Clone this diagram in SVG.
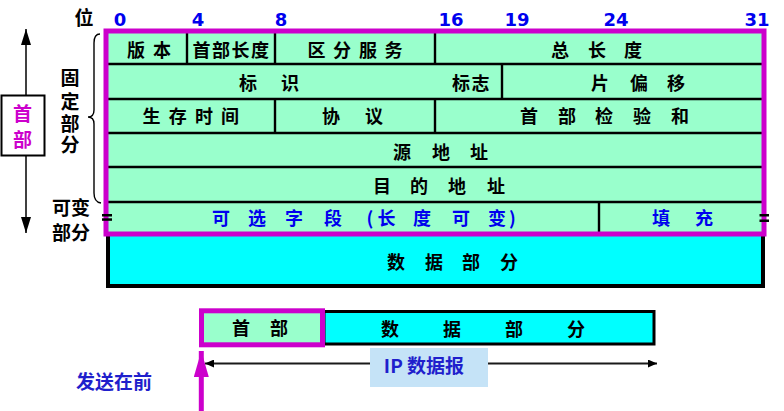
<svg xmlns="http://www.w3.org/2000/svg" width="784" height="411" viewBox="0 0 784 411">
<style>
.cjk{font-family:"Noto Sans CJK SC","Noto Sans",sans-serif;font-weight:bold;text-anchor:middle}
.t{font-size:18px;fill:#000}
.b{font-size:18px;fill:#0000EE}
.num{font-family:"DejaVu Sans",sans-serif;font-weight:bold;font-size:18px;fill:#0000EE;text-anchor:middle}
.side{font-size:19px;fill:#000}
.ln{stroke:#000;stroke-width:2.4}
.mag{fill:none;stroke:#CC00CC;stroke-width:5}
</style>
<defs>
<marker id="ahb" markerUnits="userSpaceOnUse" markerWidth="16" markerHeight="10" viewBox="0 0 16 10" refX="16" refY="5" orient="auto">
<path d="M0,0 L16,5 L0,10 Z" fill="#000"/>
</marker>
<marker id="ahs" markerUnits="userSpaceOnUse" markerWidth="9" markerHeight="8" viewBox="0 0 9 8" refX="9" refY="4" orient="auto">
<path d="M0,0 L9,4 L0,8 Z" fill="#000"/>
</marker>
<marker id="ahm" markerUnits="userSpaceOnUse" markerWidth="26" markerHeight="15" viewBox="0 0 26 15" refX="26" refY="7.5" orient="auto">
<path d="M0,0 L26,7.5 L0,15 Z" fill="#CC00CC"/>
</marker>
</defs>
<rect width="784" height="411" fill="#fff"/>

<g id="bit-scale">
<text class="cjk side" x="84" y="24.5">位</text>
<text class="num" x="120" y="26">0</text>
<text class="num" x="198" y="26">4</text>
<text class="num" x="281" y="26">8</text>
<text class="num" x="451" y="26">16</text>
<text class="num" x="517" y="26">19</text>
<text class="num" x="616" y="26">24</text>
<text class="num" x="757" y="26">31</text>
</g>

<g id="data-part">
<rect x="108" y="234" width="655" height="52" fill="#00FFFF" stroke="#000" stroke-width="4"/>
<text class="cjk t" x="396 415 434 452.5 471 490 509" y="269">数 据 部 分</text>
</g>

<g id="header-table">
<rect x="107" y="32" width="656" height="201" fill="#99FFCC"/>
<line class="ln" x1="108" y1="64" x2="762" y2="64"/>
<line class="ln" x1="108" y1="99" x2="762" y2="99"/>
<line class="ln" x1="108" y1="133" x2="762" y2="133"/>
<line class="ln" x1="108" y1="167" x2="762" y2="167"/>
<line class="ln" x1="108" y1="202" x2="762" y2="202"/>
<line class="ln" x1="187" y1="32" x2="187" y2="64"/>
<line class="ln" x1="275" y1="32" x2="275" y2="64"/>
<line class="ln" x1="435" y1="32" x2="435" y2="64"/>
<line class="ln" x1="502" y1="64" x2="502" y2="99"/>
<line class="ln" x1="275" y1="99" x2="275" y2="133"/>
<line class="ln" x1="435" y1="99" x2="435" y2="133"/>
<line class="ln" x1="599" y1="202" x2="599" y2="233"/>
<text class="cjk t" x="136 149 162" y="57">版 本</text>
<text class="cjk t" x="201.5 221 240.5 260" y="57">首部长度</text>
<text class="cjk t" x="316.5 329 342 355 368 381 393.5" y="57">区 分 服 务</text>
<text class="cjk t" x="560 578.5 597 615 633" y="57">总 长 度</text>
<text class="cjk t" x="248 269 290" y="90">标 识</text>
<text class="cjk t" x="461 480.5" y="90">标志</text>
<text class="cjk t" x="600 619.5 639 657.5 676" y="90">片 偏 移</text>
<text class="cjk t" x="151.5 164.5 177.7 191 204 217 230" y="123">生 存 时 间</text>
<text class="cjk t" x="331 352.5 374" y="123">协 议</text>
<text class="cjk t" x="529 548 567 585.5 604 623 642 661 680" y="123">首 部 检 验 和</text>
<text class="cjk t" x="402 421.5 441 460 479" y="158.5">源 地 址</text>
<text class="cjk t" x="382 400.5 419 438 457 476.5 496" y="192.5">目 的 地 址</text>
<text class="cjk b" x="221 239 257 275.5 294 313.5 333 351 370 386.5 404 422 441.5 461 479 497 512.5" y="225">可 选 字 段 (长 度 可 变)</text>
<text class="cjk b" x="661 682.5 704" y="225">填 充</text>
<rect class="mag" x="106" y="31" width="658" height="203"/>
<rect x="102" y="214" width="10" height="2.5" fill="#000"/>
<rect x="102" y="218.3" width="10" height="2.5" fill="#000"/>
<rect x="759.5" y="214" width="9.5" height="2.5" fill="#000"/>
<rect x="759.5" y="219.5" width="9.5" height="2.5" fill="#000"/>
</g>

<g id="side-labels">
<path d="M100,34 Q94,34 94,43 L94,110 Q94,117 88,117 Q94,117 94,124 L94,193 Q94,202 101,203" fill="none" stroke="#000" stroke-width="1.4"/>
<text class="cjk side" x="70 70 70 70" y="85 108.5 130.5 151.5">固定部分</text>
<text class="cjk side" x="71" y="215">可变</text>
<text class="cjk side" x="71" y="239.5">部分</text>
</g>

<g id="header-box">
<rect x="1.5" y="95.5" width="43" height="60" fill="#fff" stroke="#000" stroke-width="2"/>
<text class="cjk side" x="22.5 22.5" y="120.5 147" fill="#CC00CC" style="fill:#CC00CC">首部</text>
</g>

<g id="datagram">
<rect x="324" y="311.5" width="330" height="32.5" fill="#00FFFF" stroke="#000" stroke-width="3"/>
<text class="cjk t" x="390 421 452 483 514 545 576" y="335.5">数 据 部 分</text>
<rect x="201.5" y="310.8" width="121" height="34" fill="#99FFCC" stroke="#CC00CC" stroke-width="5"/>
<text class="cjk t" x="241 260 279" y="334.5">首 部</text>
<rect x="370" y="348" width="118" height="39" fill="#C5E3F7"/>
<text class="cjk" x="424" y="373" style="font-size:19px;fill:#1F1FCC">IP 数据报</text>
</g>

<g id="send-label">
<text class="cjk" x="114" y="388.5" style="font-size:19px;fill:#1F1FCC">发送在前</text>
</g>

<g id="connectors">
<line x1="26" y1="95" x2="26" y2="29" stroke="#000" stroke-width="1.5" marker-end="url(#ahb)"/>
<line x1="26" y1="156" x2="26" y2="233" stroke="#000" stroke-width="1.5" marker-end="url(#ahb)"/>
<line x1="370" y1="363.5" x2="205" y2="363.5" stroke="#1a1a1a" stroke-width="2" marker-end="url(#ahs)"/>
<line x1="488" y1="363.5" x2="657" y2="363.5" stroke="#1a1a1a" stroke-width="2" marker-end="url(#ahs)"/>
<line x1="201.3" y1="411" x2="201.3" y2="351" stroke="#CC00CC" stroke-width="5" marker-end="url(#ahm)"/>
</g>
</svg>
